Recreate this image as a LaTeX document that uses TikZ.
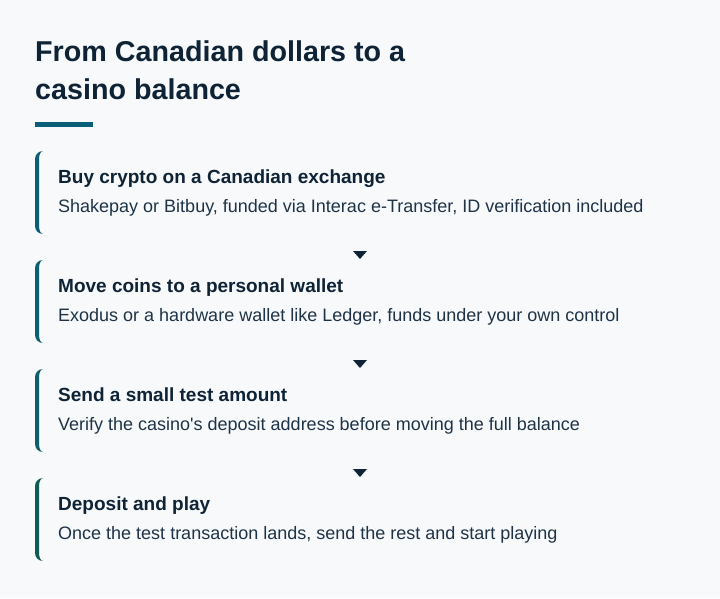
\documentclass[tikz,border=0pt]{standalone}
\usepackage{fontspec}
\setmainfont{Liberation Sans}
\definecolor{bgc}{HTML}{F7F9FB}
\definecolor{titlec}{HTML}{0F2336}
\definecolor{bodyc}{HTML}{1F3347}
\definecolor{accent}{HTML}{0B5E78}
\definecolor{barA}{HTML}{0B5E73}
\definecolor{barB}{HTML}{0C5F70}
\definecolor{barC}{HTML}{0E5F6A}
\definecolor{barD}{HTML}{0F5B55}
\definecolor{arrowc}{HTML}{0F2336}
\tikzset{
  heading/.style={anchor=base west,inner sep=0pt,text=titlec,font=\fontsize{28.7}{34}\selectfont\bfseries},
  steptitle/.style={anchor=base west,inner sep=0pt,text=titlec,font=\fontsize{19}{23}\selectfont\bfseries},
  stepbody/.style={anchor=base west,inner sep=0pt,text=bodyc,font=\fontsize{18}{22}\selectfont},
  downtip/.style={fill=arrowc},
}
\newcommand{\stepbar}[2]{%
  \fill[#2] (43,#1) .. controls (38.6,#1) and (35,#1+3.6) .. (35,#1+8)
    -- (35,#1+75) .. controls (35,#1+79.4) and (38.6,#1+83) .. (43,#1+83)
    .. controls (40.8,#1+83) and (39,#1+79.4) .. (39,#1+75)
    -- (39,#1+8) .. controls (39,#1+3.6) and (40.8,#1) .. (43,#1) -- cycle;}
\begin{document}
\begin{tikzpicture}[x=1pt,y=-1pt]
\fill[bgc] (0,0) rectangle (720,598);
\useasboundingbox (0,0) rectangle (720,598);
\node[heading] (h1) at (35,61.5) {From Canadian dollars to a};
\node[heading] (h2) at (35,99.5) {casino balance};
\fill[accent] (35,122) rectangle (93,127);

\stepbar{151}{barA}
\node[steptitle] (t1) at (58,183.3) {Buy crypto on a Canadian exchange};
\node[stepbody] (b1) at (58,212.3) {Shakepay or Bitbuy, funded via Interac e-Transfer, ID verification included};
\fill[downtip] (353,251) -- (367,251) -- (360,259) -- cycle;

\stepbar{260}{barB}
\node[steptitle] (t2) at (58,292.3) {Move coins to a personal wallet};
\node[stepbody] (b2) at (58,321.3) {Exodus or a hardware wallet like Ledger, funds under your own control};
\fill[downtip] (353,360) -- (367,360) -- (360,368) -- cycle;

\stepbar{369}{barC}
\node[steptitle] (t3) at (58,401.3) {Send a small test amount};
\node[stepbody] (b3) at (58,430.3) {Verify the casino\textquotesingle s deposit address before moving the full balance};
\fill[downtip] (353,469) -- (367,469) -- (360,477) -- cycle;

\stepbar{478}{barD}
\node[steptitle] (t4) at (58,510.3) {Deposit and play};
\node[stepbody] (b4) at (58,539.3) {Once the test transaction lands, send the rest and start playing};
\end{tikzpicture}
\end{document}
